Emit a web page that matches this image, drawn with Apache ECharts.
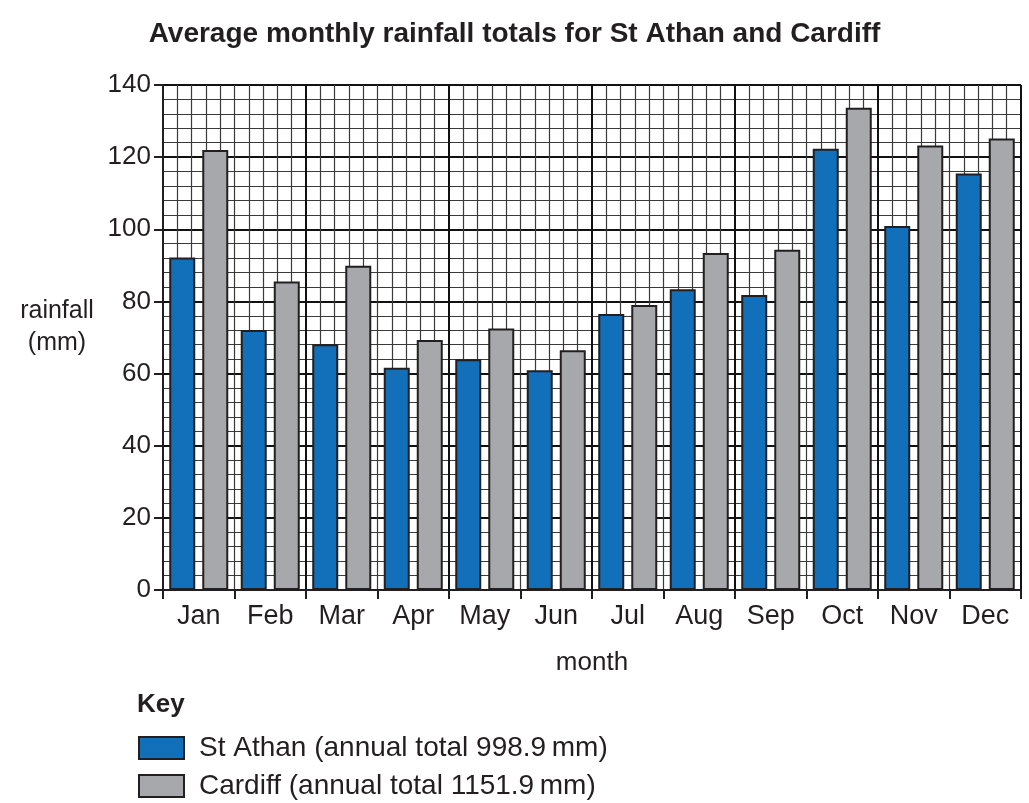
<!DOCTYPE html>
<html>
<head>
<meta charset="utf-8">
<title>Average monthly rainfall totals</title>
<script src="https://cdn.jsdelivr.net/npm/echarts@6/dist/echarts.min.js"></script>
<style>
  html, body { margin: 0; padding: 0; background: #fff; }
  #chart { width: 1029px; height: 803px; }
</style>
</head>
<body>
<div id="chart"></div>
<script>
// values (mm)
const months = ['Jan', 'Feb', 'Mar', 'Apr', 'May', 'Jun', 'Jul', 'Aug', 'Sep', 'Oct', 'Nov', 'Dec'];
const stAthan = [92.2, 72.1, 68.1, 61.6, 64.0, 60.9, 76.5, 83.4, 81.8, 122.3, 100.9, 115.5];
const cardiff = [122.0, 85.5, 89.9, 69.3, 72.5, 66.5, 79.0, 93.4, 94.3, 133.7, 123.2, 125.2];
const seriesNames = [
  'St Athan (annual total 998.9\u2009mm)',
  'Cardiff (annual total 1151.9\u2009mm)'
];

const font = '"Liberation Sans", Arial, sans-serif';
const ink = '#231f20';

const chart = echarts.init(document.getElementById('chart'));

const barBorder = { borderColor: ink, borderWidth: 2 };

// one legend per row, so they stack like the key in the picture
function keyRow(name, top) {
  return {
    left: 138,
    top: top,
    padding: 0,
    icon: 'rect',
    itemWidth: 45,
    itemHeight: 22,
    data: [name],
    textStyle: { fontFamily: font, fontSize: 28, color: ink, padding: [0, 0, 0, 10] }
  };
}

chart.setOption({
  backgroundColor: '#fff',
  animation: false,
  textStyle: { fontFamily: font, color: ink },
  title: {
    text: 'Average monthly rainfall totals for St Athan and Cardiff',
    left: 'center',
    top: 15,
    textStyle: { fontFamily: font, fontSize: 28, fontWeight: 'bold', color: ink }
  },
  grid: { left: 163, right: 8, top: 85, bottom: 213 },
  legend: [keyRow(seriesNames[0], 734), keyRow(seriesNames[1], 772)],
  graphic: [
    {
      type: 'text',
      x: 57,
      y: 295,
      style: {
        text: 'rainfall\n(mm)',
        fontFamily: font,
        fontSize: 25,
        lineHeight: 32,
        fill: ink,
        align: 'center'
      }
    },
    {
      type: 'text',
      x: 137,
      y: 692,
      style: { text: 'Key', fontFamily: font, fontSize: 26, fontWeight: 'bold', fill: ink }
    }
  ],
  xAxis: [
    {
      type: 'category',
      data: months,
      boundaryGap: true,
      name: 'month',
      nameLocation: 'middle',
      nameGap: 60,
      nameTextStyle: { fontFamily: font, fontSize: 26, color: ink },
      axisLine: { lineStyle: { color: ink, width: 2 } },
      axisTick: { show: true, alignWithLabel: false, length: 9, lineStyle: { color: ink, width: 2 } },
      axisLabel: { fontFamily: font, fontSize: 27, color: ink, margin: 13 },
      splitLine: { show: false }
    },
    {
      // invisible helper axis that only draws the graph-paper columns
      type: 'value',
      min: 0,
      max: 60,
      interval: 10,
      position: 'bottom',
      axisLine: { show: false },
      axisTick: { show: false },
      axisLabel: { show: false },
      splitLine: { show: true, lineStyle: { color: '#111', width: 2 } },
      minorTick: { show: false, splitNumber: 10 },
      minorSplitLine: { show: true, lineStyle: { color: '#3a3a3a', width: 1.2 } }
    }
  ],
  yAxis: {
    type: 'value',
    min: 0,
    max: 140,
    interval: 20,
    axisLine: { show: true, lineStyle: { color: ink, width: 2 } },
    axisTick: { show: true, length: 9, lineStyle: { color: ink, width: 2 } },
    axisLabel: { fontFamily: font, fontSize: 26, color: ink, margin: 12 },
    splitLine: { show: true, lineStyle: { color: '#111', width: 2 } },
    minorTick: { show: false, splitNumber: 5 },
    minorSplitLine: { show: true, lineStyle: { color: '#3a3a3a', width: 1.2 } }
  },
  series: [
    {
      name: seriesNames[0],
      type: 'bar',
      xAxisIndex: 0,
      barWidth: 26,
      barGap: '27%',
      itemStyle: Object.assign({ color: '#1170b9' }, barBorder),
      data: stAthan
    },
    {
      name: seriesNames[1],
      type: 'bar',
      xAxisIndex: 0,
      barWidth: 26,
      barGap: '27%',
      itemStyle: Object.assign({ color: '#a7a8ab' }, barBorder),
      data: cardiff
    }
  ]
});
</script>
</body>
</html>
